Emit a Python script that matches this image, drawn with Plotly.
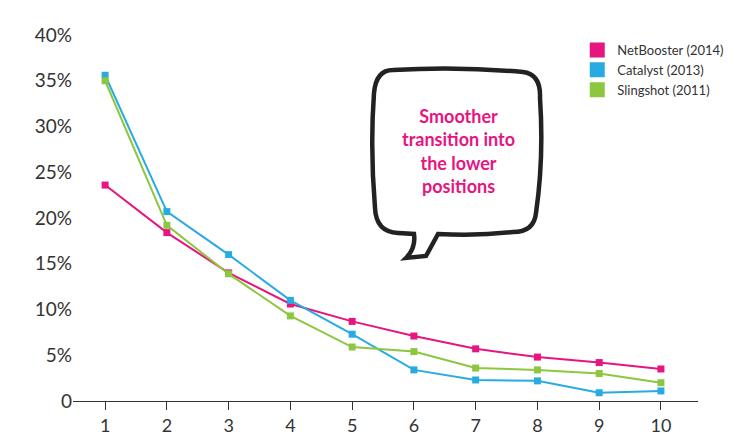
import plotly.graph_objects as go

positions = [1, 2, 3, 4, 5, 6, 7, 8, 9, 10]
netbooster = [23.6, 18.4, 14.0, 10.6, 8.7, 7.1, 5.7, 4.8, 4.2, 3.5]
catalyst = [35.6, 20.7, 16.0, 11.0, 7.3, 3.4, 2.3, 2.2, 0.9, 1.1]
slingshot = [35.0, 19.2, 13.9, 9.3, 5.9, 5.4, 3.6, 3.4, 3.0, 2.0]
names = ["NetBooster (2014)", "Catalyst (2013)", "Slingshot (2011)"]
colors = ["#e6157f", "#29abe2", "#8dc63f"]

fig = go.Figure()
for name, vals, col in zip(names, [netbooster, catalyst, slingshot], colors):
    fig.add_trace(go.Scatter(x=positions, y=vals, name=name, mode="lines+markers",
                             line=dict(color=col, width=2), showlegend=False,
                             marker=dict(symbol="square", size=7, color=col)))
    # legend entry with a square swatch
    fig.add_trace(go.Scatter(x=[None], y=[None], name=name, mode="markers",
                             marker=dict(symbol="square", size=15, color=col)))

# plot area in pixels: left 65, right 690, top 27, bottom 393
def px(x, y):
    return (x - 65) / 625, (393 - y) / 366

def P(x, y):
    a, b = px(x, y)
    return f"{a:.4f},{b:.4f}"

bubble = ("M " + P(385, 62) + " Q " + P(450, 58) + " " + P(515, 64)
          + " Q " + P(533, 66) + " " + P(532, 90)
          + " Q " + P(536, 150) + " " + P(528, 205)
          + " Q " + P(526, 224) + " " + P(505, 224)
          + " Q " + P(470, 228) + " " + P(430, 226)
          + " L " + P(418, 248) + " L " + P(398, 250)
          + " Q " + P(408, 240) + " " + P(406, 226)
          + " L " + P(390, 225)
          + " Q " + P(368, 224) + " " + P(367, 200)
          + " Q " + P(362, 140) + " " + P(366, 85)
          + " Q " + P(368, 62) + " " + P(385, 62) + " Z")
fig.add_shape(type="path", xref="paper", yref="paper", path=bubble,
              line=dict(color="#222222", width=4.5), fillcolor="white")
ax, ay = px(450, 143)
fig.add_annotation(xref="paper", yref="paper", x=ax, y=ay, xanchor="center", yanchor="middle",
                   showarrow=False,
                   text="<b>Smoother<br>transition into<br>the lower<br>positions</b>",
                   font=dict(size=18, color="#e6157f", family="Lato"), align="center")

fig.update_layout(
    width=756, height=442, plot_bgcolor="white", paper_bgcolor="white",
    margin=dict(l=65, r=66, t=27, b=49, autoexpand=False),
    font=dict(family="Lato", color="#333333"),
    xaxis=dict(range=[0.48, 10.6], tickvals=positions, showline=True, linecolor="#333",
               linewidth=1, ticks="outside", ticklen=8, tickcolor="#333", automargin=False,
               showgrid=False, zeroline=False, tickfont=dict(size=18)),
    yaxis=dict(range=[0, 40], tickvals=[0, 5, 10, 15, 20, 25, 30, 35, 40], automargin=False,
               ticktext=["0", "5%", "10%", "15%", "20%", "25%", "30%", "35%", "40%"],
               showgrid=False, zeroline=False, showline=False, tickfont=dict(size=19)),
    legend=dict(x=1.05, y=1.0, xanchor="right", yanchor="top", font=dict(size=13),
                bgcolor="rgba(0,0,0,0)", tracegroupgap=0),
)
fig.write_html("out.html")
